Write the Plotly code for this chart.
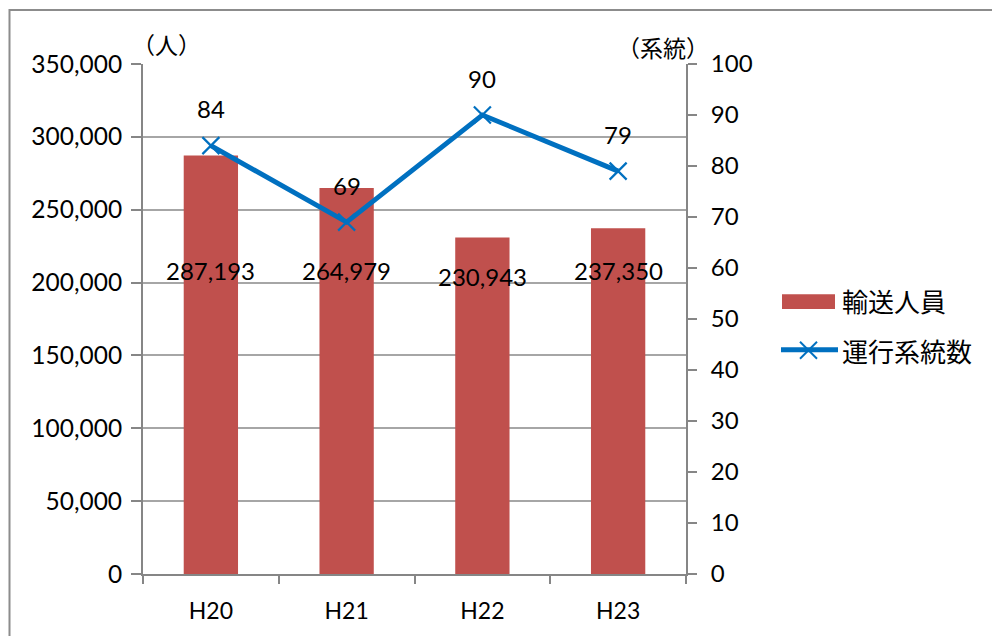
import plotly.graph_objects as go

# Fiscal years (Heisei)
years = ["H20", "H21", "H22", "H23"]
# Passengers carried (people)
passengers = [287193, 264979, 230943, 237350]
# Number of routes operated
routes = [84, 69, 90, 79]

left_ticks = [0, 50000, 100000, 150000, 200000, 250000, 300000, 350000]
right_ticks = [0, 10, 20, 30, 40, 50, 60, 70, 80, 90, 100]

BAR_RED = "#C0504D"
LINE_BLUE = "#0070C0"
AXIS_GRAY = "#868686"
GRID_GRAY = "#A6A6A6"
FONT = "Lato, 'Noto Sans CJK JP', sans-serif"
JP_FONT = "'Noto Sans CJK JP', sans-serif"

W, H = 992, 636
L, R, T, B = 143, 306, 64, 58
PW, PH = W - L - R, H - T - B


def px(x):
    return (x - L) / PW


def py(y):
    return (H - B - y) / PH


fig = go.Figure()

fig.add_trace(go.Bar(
    x=years, y=passengers, name="輸送人員",
    marker=dict(color=BAR_RED, line=dict(width=0)),
    width=0.4, yaxis="y", showlegend=False,
))

fig.add_trace(go.Scatter(
    x=years, y=routes, name="運行系統数", mode="lines+markers",
    line=dict(color=LINE_BLUE, width=5),
    marker=dict(symbol="x-thin", size=17, line=dict(color=LINE_BLUE, width=2.2)),
    yaxis="y2", showlegend=False,
))

annotations = []
# passenger labels sit in a band across the bars
bar_label_y = [208000, 208000, 204000, 208000]
for yr, v, ly in zip(years, passengers, bar_label_y):
    annotations.append(dict(x=yr, y=ly, xref="x", yref="y", text=f"{v:,}",
                            xanchor="center", showarrow=False,
                            font=dict(family=FONT, size=24, color="#000")))
# route-count labels above each marker
for yr, v in zip(years, routes):
    annotations.append(dict(x=yr, y=v, xref="x", yref="y2", text=str(v), yshift=37,
                            xanchor="center", showarrow=False,
                            font=dict(family=FONT, size=24, color="#000")))

# axis unit captions
annotations.append(dict(x=px(166), y=py(44), xref="paper", yref="paper", text="（人）",
                        xanchor="center", yanchor="middle", showarrow=False,
                        font=dict(family=JP_FONT, size=23, color="#000")))
annotations.append(dict(x=px(663), y=py(47), xref="paper", yref="paper", text="（系統）",
                        xanchor="center", yanchor="middle", showarrow=False,
                        font=dict(family=JP_FONT, size=23, color="#000")))

# legend text
annotations.append(dict(x=px(840), y=py(302), xref="paper", yref="paper", text="輸送人員",
                        xanchor="left", yanchor="middle", showarrow=False,
                        font=dict(family=JP_FONT, size=26, color="#000")))
annotations.append(dict(x=px(840), y=py(353), xref="paper", yref="paper", text="運行系統数",
                        xanchor="left", yanchor="middle", showarrow=False,
                        font=dict(family=JP_FONT, size=26, color="#000")))

shapes = [
    # chart frame
    dict(type="rect", xref="paper", yref="paper", x0=px(9.5), y0=py(645), x1=px(1000), y1=py(9.5),
         line=dict(color="#8C8C8C", width=2), fillcolor="rgba(0,0,0,0)", layer="below"),
    # legend keys
    dict(type="rect", xref="paper", yref="paper", x0=px(782), y0=py(311), x1=px(835), y1=py(296),
         line=dict(width=0), fillcolor=BAR_RED),
    dict(type="line", xref="paper", yref="paper", x0=px(781), y0=py(352), x1=px(838), y1=py(352),
         line=dict(color=LINE_BLUE, width=5)),
    dict(type="line", xref="paper", yref="paper", x0=px(800), y0=py(344), x1=px(817), y1=py(361),
         line=dict(color=LINE_BLUE, width=2)),
    dict(type="line", xref="paper", yref="paper", x0=px(800), y0=py(361), x1=px(817), y1=py(344),
         line=dict(color=LINE_BLUE, width=2)),
]

fig.update_layout(
    width=W, height=H,
    margin=dict(l=L, r=R, t=T, b=B, pad=0),
    paper_bgcolor="white", plot_bgcolor="white",
    font=dict(family=FONT, size=24, color="#000"),
    bargap=0.6,
    annotations=annotations,
    shapes=shapes,
    xaxis=dict(
        type="category", categoryorder="array", categoryarray=years,
        showline=True, linecolor=AXIS_GRAY, linewidth=2,
        ticks="outside", tickson="boundaries", ticklen=8, tickcolor=AXIS_GRAY, tickwidth=2,
        showgrid=False, tickfont=dict(family=FONT, size=23), ticklabelstandoff=15,
    ),
    yaxis=dict(
        range=[0, 350000], tickvals=left_ticks,
        ticktext=[f"{v:,}" for v in left_ticks],
        showline=True, linecolor=AXIS_GRAY, linewidth=2,
        ticks="outside", ticklen=10, tickcolor=AXIS_GRAY, tickwidth=2,
        showgrid=True, gridcolor=GRID_GRAY, gridwidth=1.5, zeroline=False,
        tickfont=dict(family=FONT, size=24.5), ticklabelstandoff=4,
    ),
    yaxis2=dict(
        range=[0, 100], tickvals=right_ticks, overlaying="y", side="right",
        showline=True, linecolor=AXIS_GRAY, linewidth=2,
        ticks="outside", ticklen=9, tickcolor=AXIS_GRAY, tickwidth=2,
        showgrid=False, zeroline=False,
        tickfont=dict(family=FONT, size=24), ticklabelstandoff=9,
    ),
)

fig.write_html("out.html")
